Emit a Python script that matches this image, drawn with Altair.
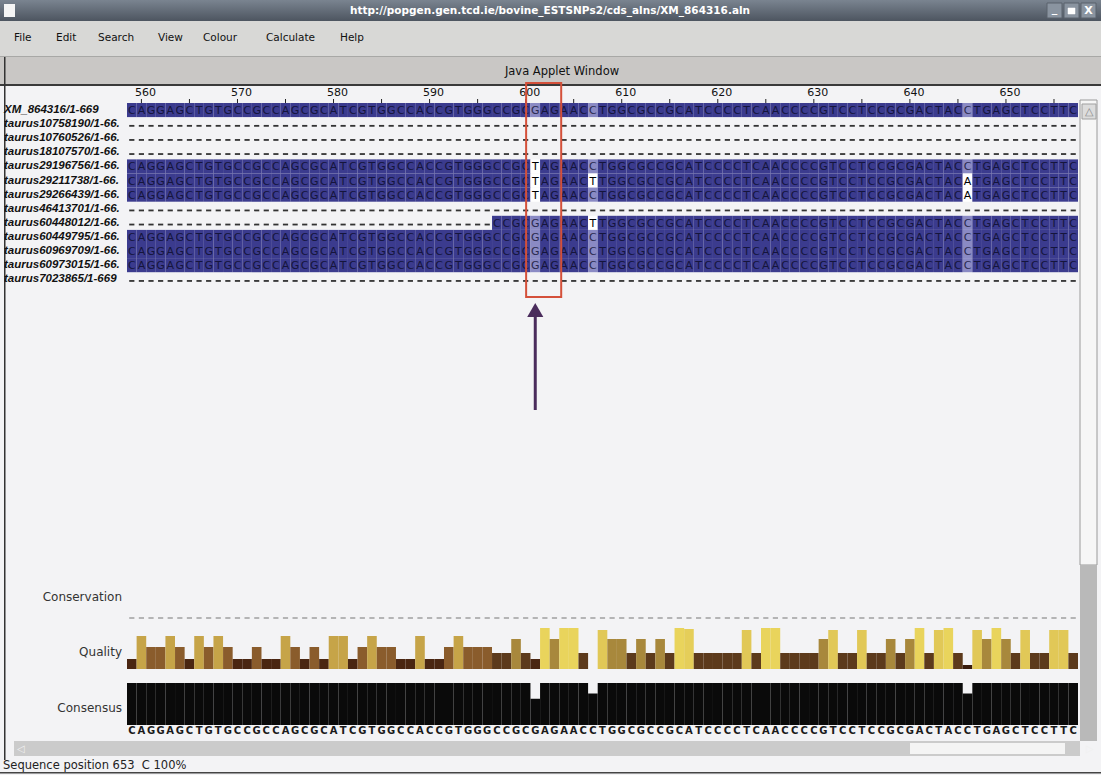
import altair as alt
import pandas as pd

# ---- alignment window data -------------------------------------------------
positions = list(range(559, 658))          # alignment columns in view
reference = ("CAGGAGCTGTGCCGCCAGCGCATCGTGG"
             "CCACCGTGGGCCGCGAGAACCT"
             "GGCGCCGCATCCCCTC"
             "AACCCCGTCCTCCGCGACTACCTGAGCTCCTTC")
seq_names = [
    "XM_864316/1-669", "taurus10758190/1-66.", "taurus10760526/1-66.",
    "taurus18107570/1-66.", "taurus29196756/1-66.", "taurus29211738/1-66.",
    "taurus29266439/1-66.", "taurus46413701/1-66.", "taurus60448012/1-66.",
    "taurus60449795/1-66.", "taurus60969709/1-66.", "taurus60973015/1-66.",
    "taurus7023865/1-669",
]
# first column (index into the view) holding sequence; None = gaps only
first_residue = [0, None, None, None, 0, 0, 0, None, 38, 0, 0, 0, None]
# (row, column index, base) differing from the reference
variants = [(4, 42, "T"), (5, 42, "T"), (6, 42, "T"),
            (5, 48, "T"), (8, 48, "T"),
            (5, 87, "A"), (6, 87, "A")]
quality = [10, 33, 22, 22, 33, 22, 10, 33, 22, 33,
           22, 10, 10, 22, 10, 10, 33, 22, 10, 22,
           10, 33, 33, 10, 22, 33, 22, 22, 10, 10,
           33, 10, 10, 22, 33, 22, 22, 22, 16, 16,
           30, 16, 10, 41, 30, 41, 41, 16, 0, 39,
           30, 30, 16, 30, 16, 30, 16, 41, 40, 16,
           16, 16, 16, 16, 39, 16, 41, 41, 16, 16,
           16, 16, 30, 39, 16, 16, 39, 16, 16, 30,
           16, 30, 41, 16, 39, 41, 16, 4, 39, 30,
           41, 30, 16, 39, 16, 16, 39, 39, 16]
menu_items = ["File", "Edit", "Search", "View", "Colour", "Calculate", "Help"]
menu_x = [14, 56, 98, 158, 203, 266, 340]
window_title = "http://popgen.gen.tcd.ie/bovine_ESTSNPs2/cds_alns/XM_864316.aln"
cursor_position = 653

# ---- derived tables ----------------------------------------------------------
var_map = {(r, c): b for r, c, b in variants}
cells, gaps = [], []
for r, start in enumerate(first_residue):
    for c, p in enumerate(positions):
        if start is None or c < start:
            gaps.append({"pos": p, "row": r})
        else:
            cells.append({"pos": p, "row": r, "col": c,
                          "res": var_map.get((r, c), reference[c])})
cells = pd.DataFrame(cells)
gaps = pd.DataFrame(gaps)

cons_rows = []
for c, p in enumerate(positions):
    col = cells[cells["col"] == c]["res"]
    counts = col.value_counts()
    top = counts.index[0]
    cons_rows.append({"pos": p, "res": top,
                      "pct": 100.0 * counts.iloc[0] / len(col), "base": 0})
consensus = pd.DataFrame(cons_rows)
pct_of = dict(zip(consensus["pos"], consensus["pct"]))
res_of = dict(zip(consensus["pos"], consensus["res"]))


def shade(row):
    if row["res"] != res_of[row["pos"]]:
        return "none"
    pct = pct_of[row["pos"]]
    return "high" if pct > 80 else ("mid" if pct > 60 else "none")


cells["shade"] = cells.apply(shade, axis=1)
for df in (cells, gaps, consensus):
    df["x0"] = df["pos"] - 0.5
    df["x1"] = df["pos"] + 0.5
cells["y0"] = cells["row"] - 0.5
cells["y1"] = cells["row"] + 0.5
gaps["d0"] = gaps["pos"] - 0.27
gaps["d1"] = gaps["pos"] + 0.27
gaps["yd"] = gaps["row"] + 0.12

qual = pd.DataFrame({"pos": positions, "q": quality, "base": 0})
qual["x0"] = qual["pos"] - 0.5
qual["x1"] = qual["pos"] + 0.5

names = pd.DataFrame({"row": list(range(len(seq_names))), "name": seq_names})
ruler = pd.DataFrame({"pos": [p for p in positions if p % 5 == 0]})
ruler["label"] = ruler["pos"].map(lambda p: str(p) if p % 10 == 0 else "")
cons_dash = pd.DataFrame({"d0": [p - 0.27 for p in positions],
                          "d1": [p + 0.27 for p in positions]})

snp_pos = positions[42]
marker = pd.DataFrame({"pos": [snp_pos], "b0": [snp_pos - 0.95], "b1": [snp_pos + 2.7]})

status = "Sequence position %d\u00a0\u00a0%s %d%%" % (
    cursor_position, res_of[cursor_position], round(pct_of[cursor_position]))

# ---- scales --------------------------------------------------------------------
xs = alt.Scale(domain=[558.5, 657.5], range=[127, 1078])
ys_rows = alt.Scale(domain=[-0.5, 12.5], range=[103, 286.3])
ys_q = alt.Scale(domain=[0, 45], range=[669, 624])
ys_c = alt.Scale(domain=[0, 100], range=[725, 683])

one = pd.DataFrame({"k": [0]})


def box(x1, x2, y1, y2, **kw):
    return alt.Chart(one).mark_rect(**kw).encode(
        x=alt.value(x1), x2=alt.value(x2), y=alt.value(y1), y2=alt.value(y2))


def label(text, x, y, **kw):
    return alt.Chart(pd.DataFrame({"t": [text]})).mark_text(**kw).encode(
        text="t:N", x=alt.value(x), y=alt.value(y))


layers = []

# window title bar
layers.append(box(0, 1101, 0, 21, color=alt.Gradient(
    gradient="linear", x1=0, x2=0, y1=0, y2=1,
    stops=[alt.GradientStop(color="#7a8490", offset=0),
           alt.GradientStop(color="#4d5560", offset=1)])))
layers.append(box(4, 15, 4, 17, color="#f4f4f4"))
for bx in (1047, 1064, 1081):
    layers.append(box(bx, bx + 15, 3, 18, color="#8a94a0", stroke="#5a626c", strokeWidth=1))
layers.append(label("_", 1054.5, 9, color="white", fontSize=11, fontWeight="bold", font="DejaVu Sans"))
layers.append(box(1068, 1075, 8, 14, fill="white", stroke="white", strokeWidth=0.5))
layers.append(label("X", 1088.5, 11, color="white", fontSize=11, fontWeight="bold", font="DejaVu Sans"))
layers.append(label(window_title, 550, 11, color="white", fontSize=10.5,
                    fontWeight="bold", font="DejaVu Sans"))

# menu bar
layers.append(box(0, 1101, 21, 57, color="#d8d8d6"))
layers.append(box(0, 1101, 56, 57, color="#a8a8a6"))
menu = pd.DataFrame({"t": menu_items, "x": menu_x})
layers.append(alt.Chart(menu).mark_text(align="left", fontSize=10.5, font="DejaVu Sans",
                                        color="#111").encode(
    text="t:N", x=alt.X("x:Q", scale=alt.Scale(domain=[0, 1101], range=[0, 1101]), axis=None),
    y=alt.value(38)))

# applet strip
layers.append(box(0, 1101, 57, 85, color="#c9c7c5"))
layers.append(box(0, 1101, 84, 86, color="#3a3a3a"))
layers.append(label("Java Applet Window", 562, 72, color="#111", fontSize=11.5, font="DejaVu Sans"))

# left window border
layers.append(box(4, 5.5, 57, 760, color="#333"))

# ruler
layers.append(alt.Chart(ruler).mark_rule(color="#222", strokeWidth=1).encode(
    x=alt.X("pos:Q", scale=xs, axis=None), y=alt.value(99), y2=alt.value(104)))
layers.append(alt.Chart(ruler).mark_text(fontSize=11, font="DejaVu Sans", color="#111",
                                         dx=4).encode(
    x=alt.X("pos:Q", scale=xs, axis=None), y=alt.value(93), text="label:N"))

# sequence names
layers.append(alt.Chart(names).mark_text(align="left", fontSize=11.5, fontStyle="italic",
                                         fontWeight="bold", font="Liberation Sans",
                                         color="#111").encode(
    x=alt.value(4), y=alt.Y("row:Q", scale=ys_rows, axis=None), text="name:N"))

# residue cells
shade_scale = alt.Scale(domain=["high", "mid", "none"], range=["#3b3b8e", "#8a8ac4", "#ffffff"])
ink_scale = alt.Scale(domain=["high", "mid", "none"], range=["#15153c", "#2a2a50", "#000000"])
layers.append(alt.Chart(cells).mark_rect().encode(
    x=alt.X("x0:Q", scale=xs, axis=None), x2="x1:Q",
    y=alt.Y("y0:Q", scale=ys_rows, axis=None), y2="y1:Q",
    color=alt.Color("shade:N", scale=shade_scale, legend=None)))
layers.append(alt.Chart(cells).mark_text(fontSize=11, font="DejaVu Sans", dy=1).encode(
    x=alt.X("pos:Q", scale=xs, axis=None),
    y=alt.Y("row:Q", scale=ys_rows, axis=None),
    text="res:N",
    color=alt.Color("shade:N", scale=ink_scale, legend=None)))

# gap dashes
layers.append(alt.Chart(gaps).mark_rule(color="#333", strokeWidth=1.8).encode(
    x=alt.X("d0:Q", scale=xs, axis=None), x2="d1:Q",
    y=alt.Y("yd:Q", scale=ys_rows, axis=None)))

# marker box and arrow on the SNP column
layers.append(alt.Chart(marker).mark_rect(fill=None, stroke="#d4503a", strokeWidth=2).encode(
    x=alt.X("b0:Q", scale=xs, axis=None), x2="b1:Q", y=alt.value(83), y2=alt.value(297)))
layers.append(alt.Chart(marker).mark_rule(color="#4a2c5c", strokeWidth=3).encode(
    x=alt.X("pos:Q", scale=xs, axis=None), y=alt.value(314), y2=alt.value(410)))
layers.append(alt.Chart(marker).mark_point(shape="triangle-up", filled=True, size=260,
                                           color="#4a2c5c", opacity=1).encode(
    x=alt.X("pos:Q", scale=xs, axis=None), y=alt.value(310)))

# annotation labels
for txt, yy in (("Conservation", 597), ("Quality", 652), ("Consensus", 708)):
    layers.append(label(txt, 122, yy, align="right", fontSize=12, font="DejaVu Sans", color="#333"))

# conservation row (gapped)
layers.append(alt.Chart(cons_dash).mark_rule(color="#8a8a8a", strokeWidth=1.2).encode(
    x=alt.X("d0:Q", scale=xs, axis=None), x2="d1:Q", y=alt.value(618)))

# quality histogram
q_colors = alt.Scale(domain=[0, 10, 16, 22, 30, 33, 41],
                     range=["#2e1608", "#4a2612", "#5c3a1c", "#8a5c2c",
                            "#a8883c", "#c6a448", "#e9d45c"])
layers.append(alt.Chart(qual).mark_rect().encode(
    x=alt.X("x0:Q", scale=xs, axis=None), x2="x1:Q",
    y=alt.Y("q:Q", scale=ys_q, axis=None), y2="base:Q",
    color=alt.Color("q:Q", scale=q_colors, legend=None)))

# consensus histogram and letters
layers.append(alt.Chart(consensus).mark_rect(color="#0a0a0a").encode(
    x=alt.X("x0:Q", scale=xs, axis=None), x2="x1:Q",
    y=alt.Y("pct:Q", scale=ys_c, axis=None), y2="base:Q"))
layers.append(alt.Chart(consensus).mark_text(fontSize=10, font="DejaVu Sans",
                                             fontWeight="bold", color="#1a1a1a").encode(
    x=alt.X("pos:Q", scale=xs, axis=None), y=alt.value(731), text="res:N"))

# vertical scrollbar
layers.append(box(1080, 1097, 100, 565, color="#f6f6f6", stroke="#9a9a9a", strokeWidth=1))
layers.append(box(1082, 1096, 104, 119, color="#dcdcdc", stroke="#a0a0a0", strokeWidth=1))
layers.append(label("\u25B3", 1089, 112, fontSize=11, color="#888"))
layers.append(box(1080, 1097, 565, 741, color="#b9b9b9"))

# horizontal scrollbar
layers.append(box(14, 1080, 741, 756, color="#cbcbcb"))
layers.append(label("\u25C1", 21, 749, fontSize=10, color="#f0f0f0"))
layers.append(box(910, 1065, 743, 754, color="#f4f4f4"))
layers.append(label("\u25B7", 1090, 749, fontSize=10, color="#f0f0f0"))

# status line
layers.append(label(status, 3, 766, align="left", fontSize=11.5, font="DejaVu Sans", color="#222"))
layers.append(box(0, 1101, 772, 773.5, color="#444"))

chart = alt.layer(*layers).properties(
    width=1101, height=775, padding=0, autosize="none", background="#f3f3f5"
).resolve_scale(x="independent", y="independent", color="independent"
).configure_view(strokeWidth=0)

chart.save("out.html", embed_options={"renderer": "svg", "actions": False})
